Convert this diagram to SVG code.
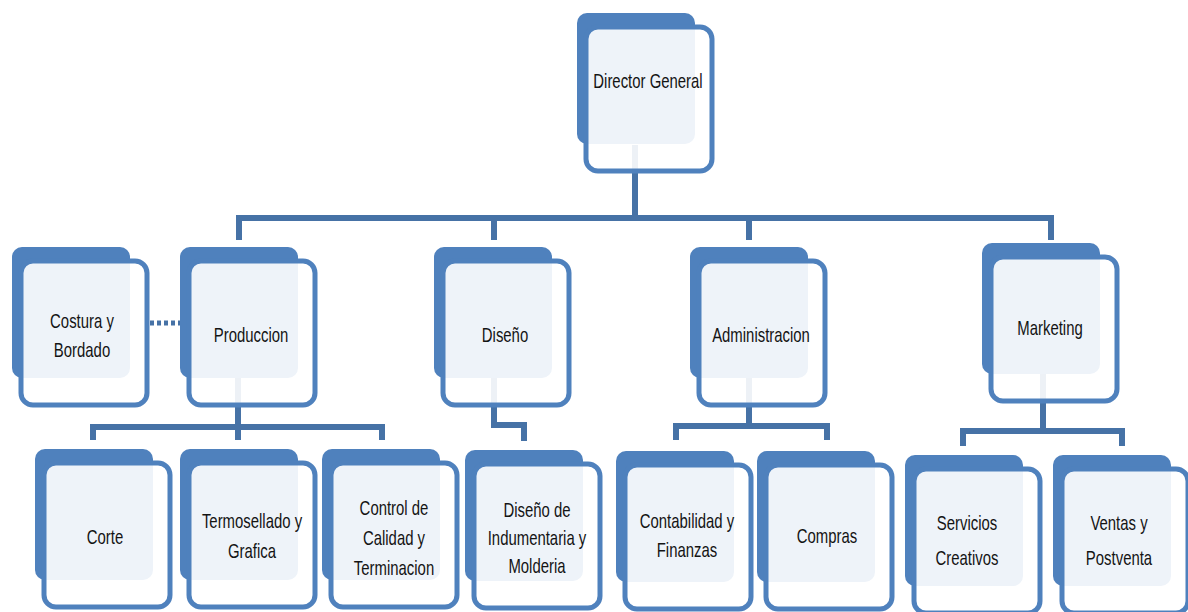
<svg xmlns="http://www.w3.org/2000/svg" width="1188" height="612" viewBox="0 0 1188 612">
  <style>
    .back { fill: #4f81bd; }
    .front { fill: #ffffff; fill-opacity: 0.9; stroke: #4f81bd; stroke-width: 5; }
    .link { fill: none; stroke: #4672a6; stroke-width: 6; stroke-linejoin: miter; }
    .dots { fill: none; stroke: #4672a6; stroke-width: 5; stroke-dasharray: 4 3; }
    .lbl { font-family: "Liberation Sans", Arial, sans-serif; font-size: 21px; fill: #141414; text-anchor: middle; }
  </style>
  <defs>
    <rect id="backBox" class="back" width="118" height="131" rx="10"/>
    <rect id="frontBox" class="front" x="9" y="14" width="126" height="144" rx="12"/>
  </defs>

  <rect width="1188" height="612" fill="#ffffff"/>

  <!-- connectors (drawn first so they show faintly through the boxes) -->
  <g id="connectors">
    <path class="link" d="M635 145 V218"/>
    <path class="link" d="M239 240 V218 H1051 V240"/>
    <path class="link" d="M494 218 V240"/>
    <path class="link" d="M749 218 V240"/>
    <path class="link" d="M238 378 V427"/>
    <path class="link" d="M93 440 V427 H382 V440"/>
    <path class="link" d="M238 427 V440"/>
    <path class="link" d="M494 378 V425 H524 V441"/>
    <path class="link" d="M749 378 V426"/>
    <path class="link" d="M676 440 V426 H827 V440"/>
    <path class="link" d="M1043 374 V431"/>
    <path class="link" d="M963 446 V431 H1122 V446"/>
    <path class="dots" d="M150 323 H180"/>
  </g>

  <!-- top level -->
  <g id="director" transform="translate(577,13)">
    <use href="#backBox"/><use href="#frontBox"/>
    <text class="lbl" transform="translate(71,75) scale(0.71,1)">Director General</text>
  </g>

  <!-- second level -->
  <g id="costura" transform="translate(12,247)">
    <use href="#backBox"/><use href="#frontBox"/>
    <text class="lbl" transform="translate(70,81) scale(0.71,1)"><tspan x="0">Costura y</tspan><tspan x="0" dy="29">Bordado</tspan></text>
  </g>
  <g id="produccion" transform="translate(180,247)">
    <use href="#backBox"/><use href="#frontBox"/>
    <text class="lbl" transform="translate(71,95) scale(0.71,1)">Produccion</text>
  </g>
  <g id="diseno" transform="translate(434,247)">
    <use href="#backBox"/><use href="#frontBox"/>
    <text class="lbl" transform="translate(71,95) scale(0.71,1)">Diseño</text>
  </g>
  <g id="administracion" transform="translate(690,247)">
    <use href="#backBox"/><use href="#frontBox"/>
    <text class="lbl" transform="translate(71,95) scale(0.71,1)">Administracion</text>
  </g>
  <g id="marketing" transform="translate(982,243)">
    <use href="#backBox"/><use href="#frontBox"/>
    <text class="lbl" transform="translate(68,92) scale(0.71,1)">Marketing</text>
  </g>

  <!-- third level -->
  <g id="corte" transform="translate(35,449)">
    <use href="#backBox"/><use href="#frontBox"/>
    <text class="lbl" transform="translate(70,95) scale(0.71,1)">Corte</text>
  </g>
  <g id="termosellado" transform="translate(180,449)">
    <use href="#backBox"/><use href="#frontBox"/>
    <text class="lbl" transform="translate(72,79) scale(0.71,1)"><tspan x="0">Termosellado y</tspan><tspan x="0" dy="30">Grafica</tspan></text>
  </g>
  <g id="control" transform="translate(322,449)">
    <use href="#backBox"/><use href="#frontBox"/>
    <text class="lbl" transform="translate(72,66) scale(0.71,1)"><tspan x="0">Control de</tspan><tspan x="0" dy="30">Calidad y</tspan><tspan x="0" dy="30">Terminacion</tspan></text>
  </g>
  <g id="indumentaria" transform="translate(465,450)">
    <use href="#backBox"/><use href="#frontBox"/>
    <text class="lbl" transform="translate(72,67) scale(0.71,1)"><tspan x="0">Diseño de</tspan><tspan x="0" dy="28">Indumentaria y</tspan><tspan x="0" dy="28">Molderia</tspan></text>
  </g>
  <g id="contabilidad" transform="translate(616,451)">
    <use href="#backBox"/><use href="#frontBox"/>
    <text class="lbl" transform="translate(71,77) scale(0.71,1)"><tspan x="0">Contabilidad y</tspan><tspan x="0" dy="29">Finanzas</tspan></text>
  </g>
  <g id="compras" transform="translate(757,451)">
    <use href="#backBox"/><use href="#frontBox"/>
    <text class="lbl" transform="translate(70,92) scale(0.71,1)">Compras</text>
  </g>
  <g id="servicios" transform="translate(905,455)">
    <use href="#backBox"/><use href="#frontBox"/>
    <text class="lbl" transform="translate(62,75) scale(0.71,1)"><tspan x="0">Servicios</tspan><tspan x="0" dy="35">Creativos</tspan></text>
  </g>
  <g id="ventas" transform="translate(1053,455)">
    <use href="#backBox"/><use href="#frontBox"/>
    <text class="lbl" transform="translate(66,75) scale(0.71,1)"><tspan x="0">Ventas y</tspan><tspan x="0" dy="35">Postventa</tspan></text>
  </g>
</svg>
